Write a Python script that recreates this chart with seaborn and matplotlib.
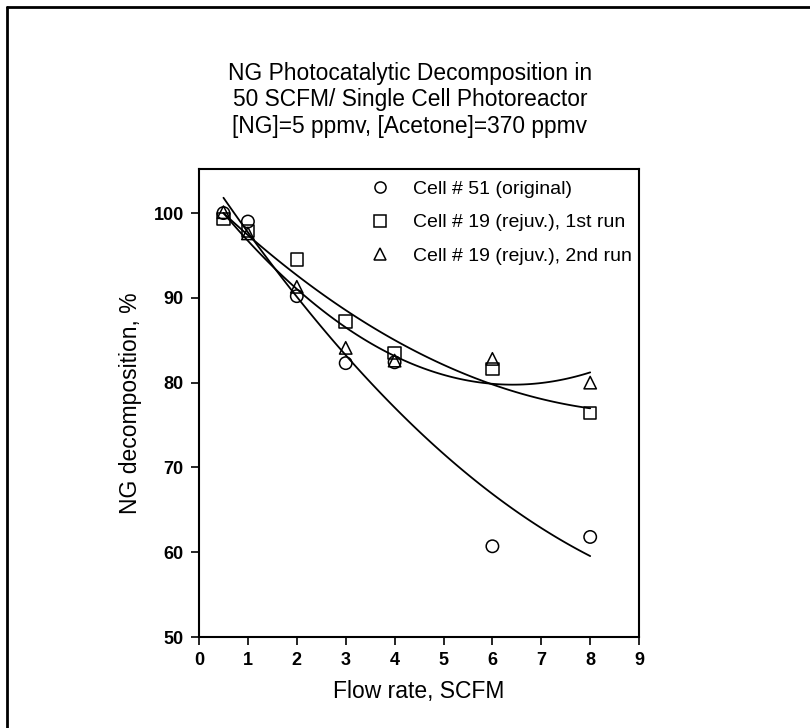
import numpy as np
import pandas as pd
import seaborn as sns
import matplotlib.pyplot as plt
from matplotlib.lines import Line2D

# Values
flow = [0.5, 1, 2, 3, 4, 6, 8]
cell51 = [100.0, 99.0, 90.2, 82.3, 82.4, 60.7, 61.8]
cell19_run1 = [99.3, 97.9, 94.5, 87.2, 83.5, 81.6, 76.4]
cell19_run2 = [100.1, 97.6, 91.3, 84.1, 82.6, 82.8, 80.0]

labels = ['Cell # 51 (original)', 'Cell # 19 (rejuv.), 1st run', 'Cell # 19 (rejuv.), 2nd run']
markers = ['o', 's', '^']
fit_order = [2, 2, 2]

df = pd.DataFrame({
    'flow': flow * 3,
    'decomp': cell51 + cell19_run1 + cell19_run2,
    'cell': [labels[0]] * 7 + [labels[1]] * 7 + [labels[2]] * 7,
})

sns.set_style('ticks')
plt.rcParams['font.family'] = ['Liberation Sans', 'DejaVu Sans']
plt.rcParams['text.color'] = 'black'
plt.rcParams['axes.labelcolor'] = 'black'

fig = plt.figure(figsize=(8.1, 7.28), dpi=100)
ax = fig.add_axes([0.2457, 0.125, 0.5433, 0.6429])

# fitted curves
for lab, order in zip(labels, fit_order):
    sub = df[df['cell'] == lab]
    sns.regplot(data=sub, x='flow', y='decomp', order=order, ci=None, scatter=False,
                truncate=True, color='black', line_kws={'linewidth': 1.3}, ax=ax)

# data points
sns.scatterplot(data=df, x='flow', y='decomp', style='cell', markers=dict(zip(labels, markers)),
                s=80, facecolor='none', edgecolor='black', linewidth=1.1, legend=False, ax=ax)

ax.set_xlim(0, 9)
ax.set_ylim(50, 105.2)
ax.set_xticks(range(0, 10))
ax.set_yticks(range(50, 101, 10))
ax.tick_params(direction='out', length=6, width=1.2, pad=5, labelsize=13, colors='black')
for t in ax.get_xticklabels() + ax.get_yticklabels():
    t.set_fontweight('bold')
for sp in ax.spines.values():
    sp.set_visible(True)
    sp.set_linewidth(1.5)
    sp.set_color('black')

ax.set_xlabel('Flow rate, SCFM', fontsize=16.5, labelpad=8)
ax.set_ylabel('NG decomposition, %', fontsize=16.5, labelpad=8)

handles = [Line2D([], [], marker=m, linestyle='none', markerfacecolor='none', markeredgecolor='black',
                  markersize=8, markeredgewidth=1.1) for m in markers]
ax.legend(handles, labels, loc='upper right', bbox_to_anchor=(1.01, 1.0), frameon=False, fontsize=14,
          handlelength=1.0, handletextpad=1.2, borderaxespad=0.2, labelspacing=0.8)

fig.text(0.506, 0.863, 'NG Photocatalytic Decomposition in\n50 SCFM/ Single Cell Photoreactor\n'
         '[NG]=5 ppmv, [Acetone]=370 ppmv', ha='center', va='center', fontsize=16.4, linespacing=1.2)

# frame around the figure (top and left only, as in the scan)
fig.add_artist(Line2D([0.009, 1], [0.991, 0.991], transform=fig.transFigure, color='black', linewidth=2))
fig.add_artist(Line2D([0.009, 0.009], [0, 0.991], transform=fig.transFigure, color='black', linewidth=2))

plt.savefig('out.png', dpi=100)
